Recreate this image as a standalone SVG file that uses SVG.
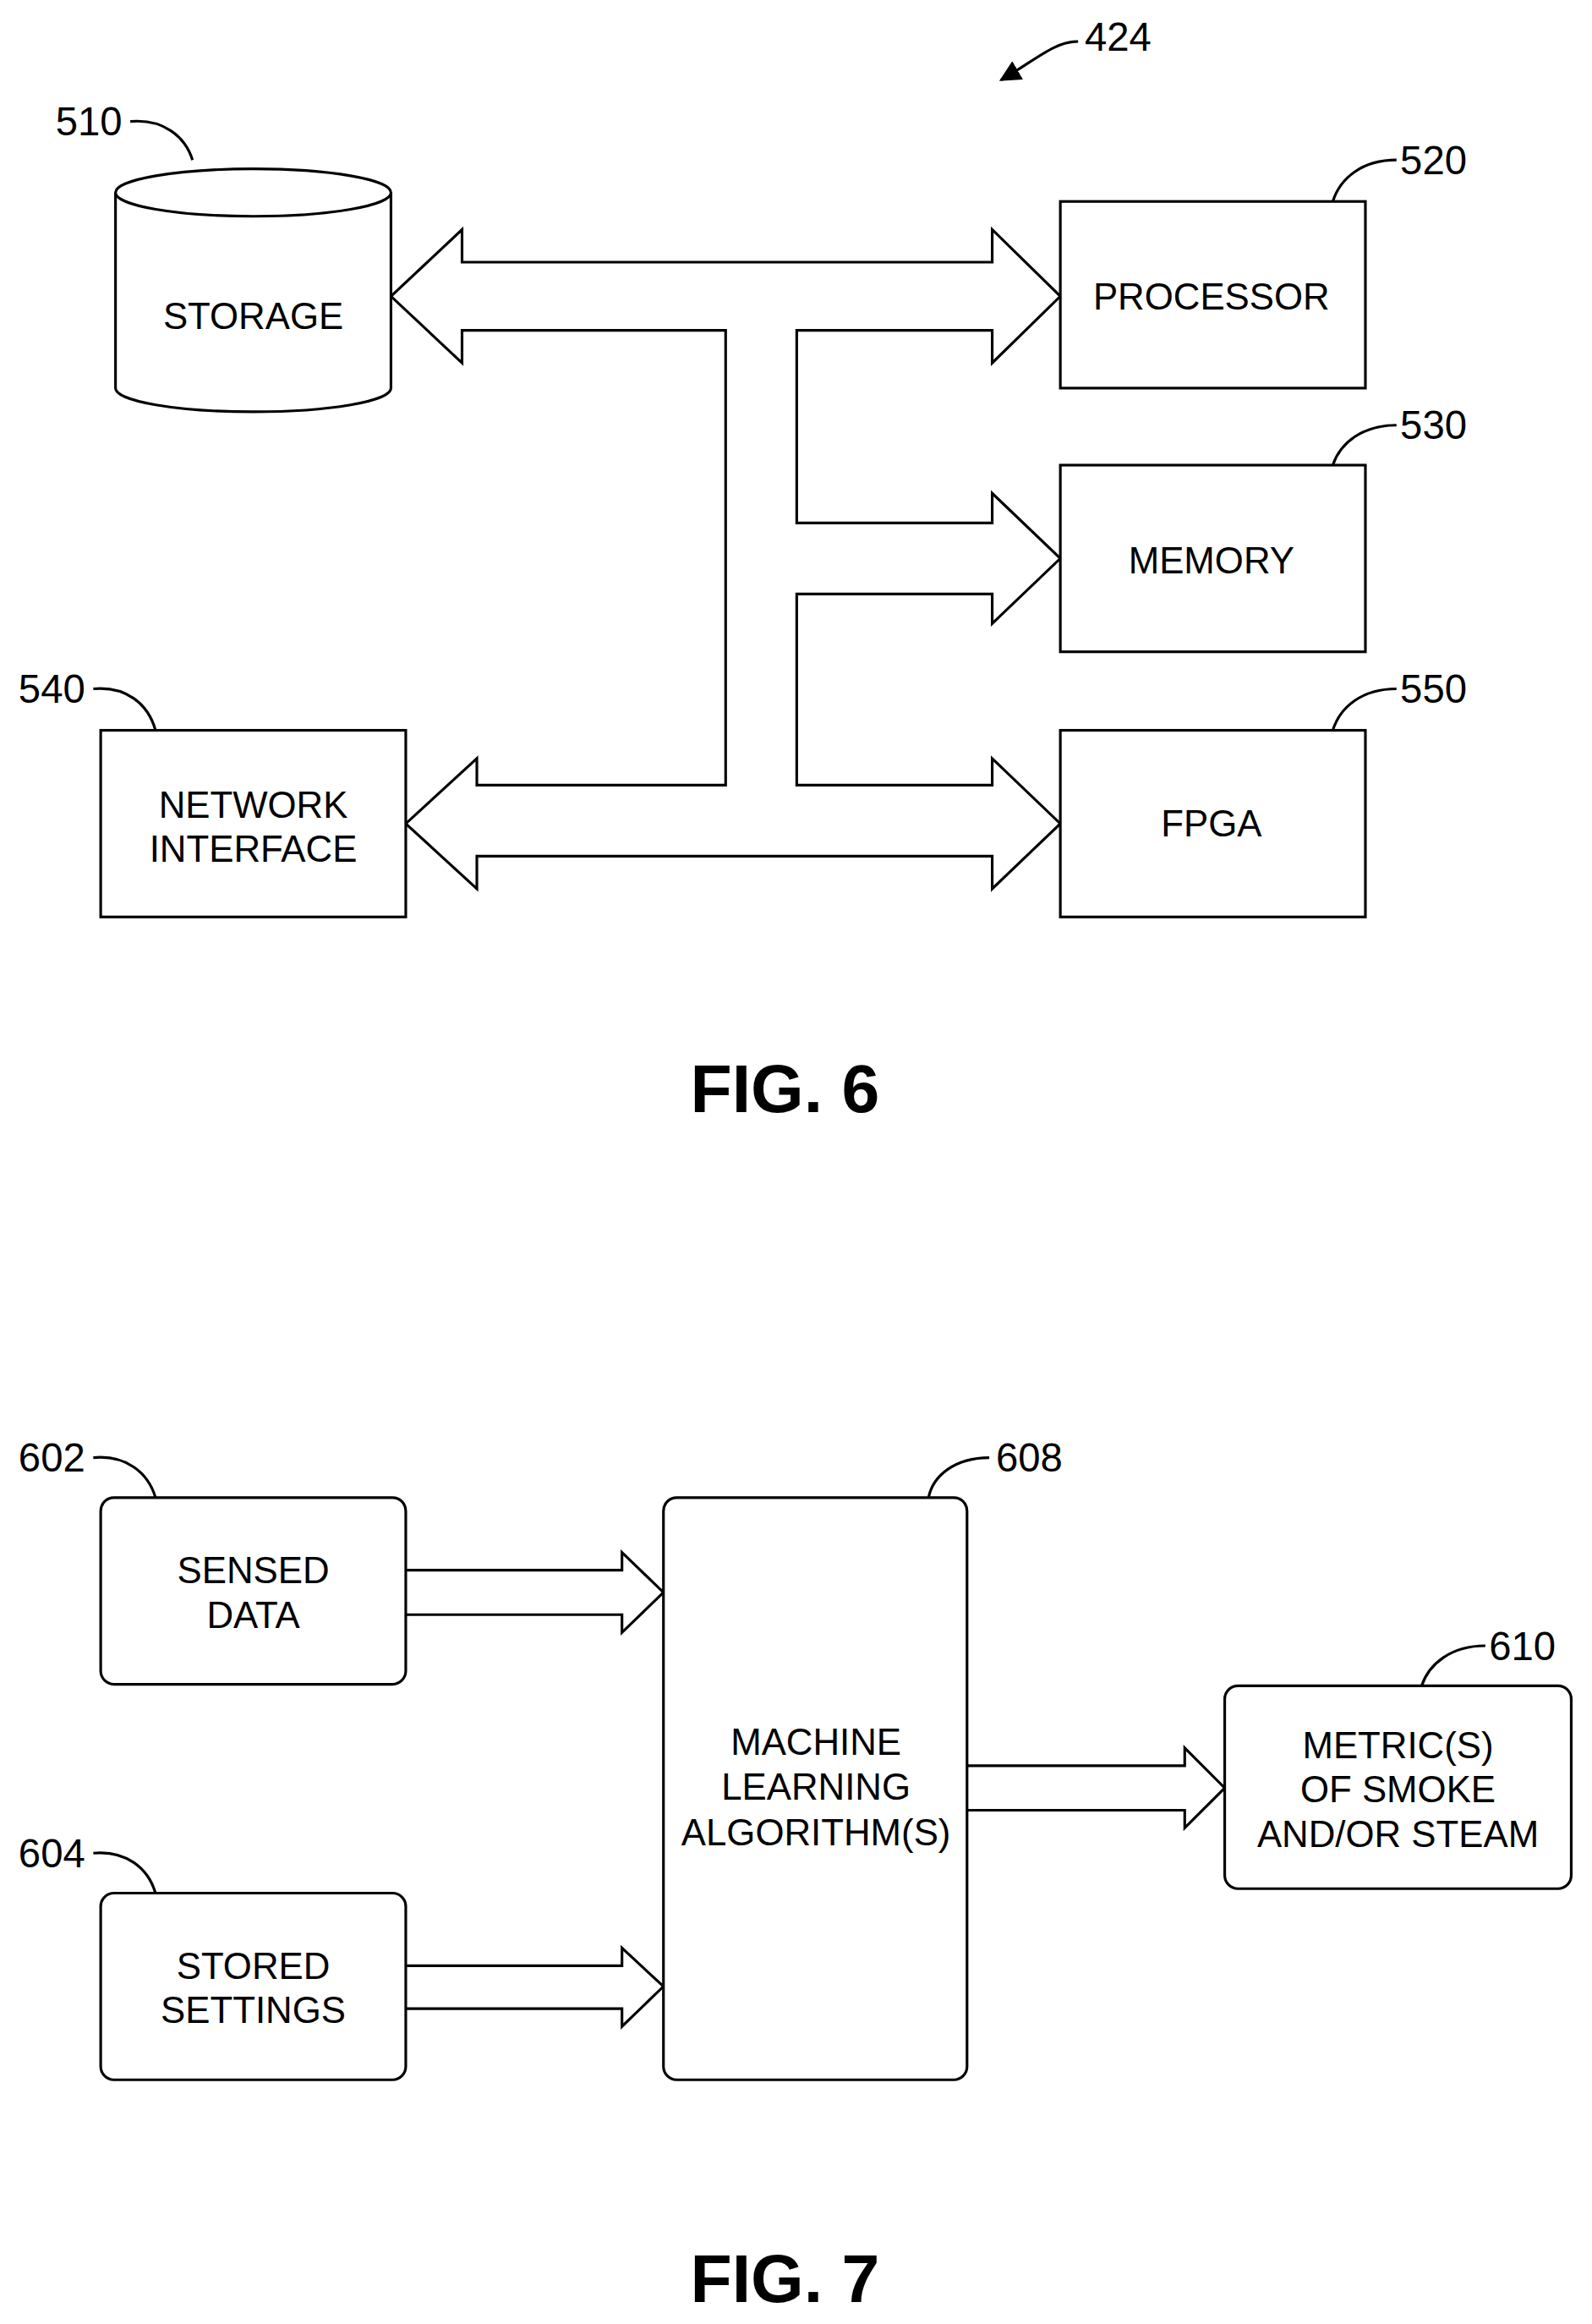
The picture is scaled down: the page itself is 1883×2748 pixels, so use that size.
<svg xmlns="http://www.w3.org/2000/svg" width="1883" height="2748" viewBox="0 0 1883 2748">
<style>
.s{fill:none;stroke:#000;stroke-width:1.8}
.w{fill:#fff;stroke:#000;stroke-width:1.8}
.t{font-family:"Liberation Sans",Arial,sans-serif;font-size:25px;text-anchor:middle;dominant-baseline:central}
.n{font-family:"Liberation Sans",Arial,sans-serif;font-size:27px;text-anchor:middle;dominant-baseline:central}
.f{font-family:"Liberation Sans",Arial,sans-serif;font-size:46px;font-weight:bold;text-anchor:middle;dominant-baseline:central}
</style>
<defs><marker id="ah" viewBox="0 0 10 10" refX="9" refY="5" markerWidth="8" markerHeight="8" orient="auto"><path d="M0,0L10,5L0,10z"/></marker></defs>
<rect width="1883" height="2748" fill="#fff"/>
<g transform="scale(1.7516)">
<g id="connectors">
<path class="s" d="M264,200L312,155L312,177L670,177L670,155L716,200L670,245L670,223L538,223L538,353L670,353L670,333L716,377L670,421L670,401L538,401L538,530L670,530L670,512L716,556L670,600L670,578L322,578L322,600L274,556L322,512L322,530L490,530L490,223L312,223L312,245Z"/>
<path class="s" d="M274,1060L420,1060L420,1048L448,1075L420,1102L420,1090L274,1090"/>
<path class="s" d="M274,1327L420,1327L420,1315L448,1341L420,1368L420,1356L274,1356"/>
<path class="s" d="M653,1192L800,1192L800,1180L827,1207L800,1234L800,1222L653,1222"/>
<path class="s" d="M88,82C110,80 125,92 130,108"/>
<path class="s" d="M943,108C920,108 905,120 900,136"/>
<path class="s" d="M943,287C920,287 905,299 900,314"/>
<path class="s" d="M943,465C920,465 905,477 900,493"/>
<path class="s" d="M63,465C85,463 100,475 105,493"/>
<path class="s" d="M63,984C85,982 100,994 105,1011"/>
<path class="s" d="M63,1251C85,1249 100,1261 105,1278"/>
<path class="s" d="M668,984C645,984 630,996 627,1011"/>
<path class="s" d="M1003,1111C980,1111 965,1123 960,1138"/>
<path class="s" d="M728,28C712,28 700,40 676,54" marker-end="url(#ah)" stroke-width="2"/>
</g>
<text class="n" x="755" y="25">424</text>
<g id="n510"><path class="w" d="M78,130L78,262A93,16 0 0 0 264,262L264,130"/><ellipse class="w" cx="171" cy="130" rx="93" ry="16"/><text class="t" x="171" y="213">STORAGE</text><text class="n" x="60" y="82">510</text></g>
<g id="n520"><rect class="w" x="716" y="136" width="206" height="126"/><text class="t" x="818" y="200">PROCESSOR</text><text class="n" x="968" y="108">520</text></g>
<g id="n530"><rect class="w" x="716" y="314" width="206" height="126"/><text class="t" x="818" y="378">MEMORY</text><text class="n" x="968" y="287">530</text></g>
<g id="n550"><rect class="w" x="716" y="493" width="206" height="126"/><text class="t" x="818" y="556">FPGA</text><text class="n" x="968" y="465">550</text></g>
<g id="n540"><rect class="w" x="68" y="493" width="206" height="126"/><text class="t" x="171" y="543">NETWORK</text><text class="t" x="171" y="573">INTERFACE</text><text class="n" x="35" y="465">540</text></g>
<text class="f" x="530" y="735">FIG. 6</text>
<g id="n602"><rect class="w" x="68" y="1011" width="206" height="126" rx="9"/><text class="t" x="171" y="1060">SENSED</text><text class="t" x="171" y="1090">DATA</text><text class="n" x="35" y="984">602</text></g>
<g id="n604"><rect class="w" x="68" y="1278" width="206" height="126" rx="9"/><text class="t" x="171" y="1327">STORED</text><text class="t" x="171" y="1357">SETTINGS</text><text class="n" x="35" y="1251">604</text></g>
<g id="n608"><rect class="w" x="448" y="1011" width="205" height="393" rx="9"/><text class="t" x="551" y="1176">MACHINE</text><text class="t" x="551" y="1206">LEARNING</text><text class="t" x="551" y="1237">ALGORITHM(S)</text><text class="n" x="695" y="984">608</text></g>
<g id="n610"><rect class="w" x="827" y="1138" width="234" height="137" rx="9"/><text class="t" x="944" y="1178">METRIC(S)</text><text class="t" x="944" y="1208">OF SMOKE</text><text class="t" x="944" y="1238">AND/OR STEAM</text><text class="n" x="1028" y="1111">610</text></g>
<text class="f" x="530" y="1538">FIG. 7</text>
</g>
</svg>
